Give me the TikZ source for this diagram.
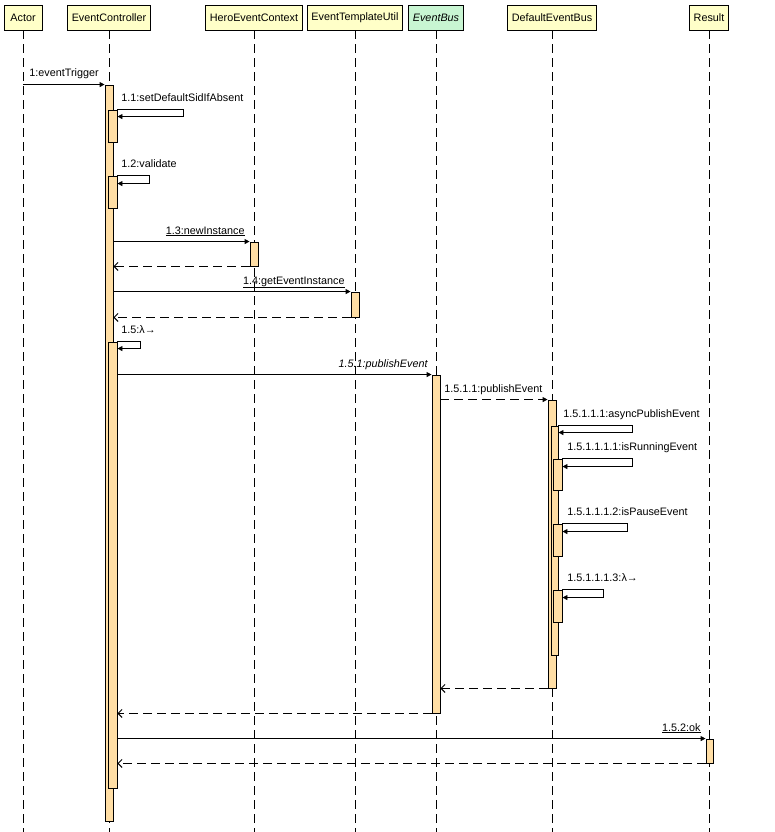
\documentclass[tikz,border=0pt]{standalone}
\usepackage{fontspec}
\setmainfont{Liberation Sans}
\usetikzlibrary{arrows.meta,fit}
\definecolor{headyellow}{RGB}{255,255,200}
\definecolor{headgreen}{RGB}{200,245,210}
\definecolor{actfill}{RGB}{255,222,165}
\tikzset{
 head/.style={draw,fill=headyellow,minimum height=25pt,inner xsep=4pt,inner ysep=0pt},
 life/.style={dash pattern=on 9pt off 5pt},
 act/.style={draw,fill=actfill,inner sep=0pt},
 call/.style={-{Triangle[length=5pt,width=5pt]}},
 ret/.style={life,-{Straight Barb[length=4pt,width=8pt]}},
 lbl/.style={anchor=base west,inner sep=0pt},
 lblr/.style={anchor=base east,inner sep=0pt}
}
\begin{document}
\begin{tikzpicture}[x=1pt,y=-1pt,line width=0.9pt,font=\fontsize{10.8}{12}\selectfont]
 \useasboundingbox (0,0) rectangle (774,832);
 \node[head,minimum width=38pt] (actor) at (23,17.5) {Actor};
 \node[head] (ctl) at (109,17.5) {EventController};
 \node[head] (ctx) at (254,17.5) {HeroEventContext};
 \node[head] (util) at (355,17.5) {EventTemplateUtil};
 \node[head,fill=headgreen,font=\fontsize{10.8}{12}\selectfont\itshape] (bus) at (436,17.5) {EventBus};
 \node[head] (dbus) at (552,17.5) {DefaultEventBus};
 \node[head] (res) at (709,17.5) {Result};
 \coordinate (bot) at (0,832);
 \foreach \n in {actor,ctl,ctx,util,bus,dbus,res}
  \draw[life] (\n.south) -- (\n.south |- bot);
 \node[act,fit={(105,85) (113,821)}] (a0) {};
 \node[act,fit={(108,110) (117,142)}] (a1) {};
 \node[act,fit={(108,176) (117,208)}] (a2) {};
 \node[act,fit={(250,242) (258,266)}] (h) {};
 \node[act,fit={(351,292) (359,317)}] (t) {};
 \node[act,fit={(108,342) (117,788)}] (a3) {};
 \node[act,fit={(432,375) (440,713)}] (b) {};
 \node[act,fit={(548,400) (556,688)}] (d) {};
 \node[act,fit={(551,426) (558,655)}] (d1) {};
 \node[act,fit={(553,459) (562,490)}] (d2) {};
 \node[act,fit={(553,524) (562,556)}] (d3) {};
 \node[act,fit={(553,590) (562,622)}] (d4) {};
 \node[act,fit={(706,739) (713,763)}] (r) {};
 \draw[call] (a0.north west -| actor) -- (a0.north west);
 \node[lbl] (m1) at (29,77) {1:eventTrigger};
 \draw[call] (a1.north east) -- ++(66,0) -- ++(0,7) -- ++(-66,0);
 \node[lbl] (m11) at (121,102) {1.1:setDefaultSidIfAbsent};
 \draw[call] (a2.north east) -- ++(32,0) -- ++(0,8) -- ++(-32,0);
 \node[lbl] (m12) at (121,167) {1.2:validate};
 \draw[call] (h.north west -| a0.east) -- (h.north west);
 \node[lblr] (m13) at (245,234) {\underline{1.3:newInstance}};
 \draw[ret] (h.south west) -- (h.south west -| a0.east);
 \draw[call] (t.north west -| a0.east) -- (t.north west);
 \node[lblr] (m14) at (345,284) {\underline{1.4:getEventInstance}};
 \draw[ret] (t.south west) -- (t.south west -| a0.east);
 \draw[call] (a3.north east) -- ++(23,0) -- ++(0,7) -- ++(-23,0);
 \node[lbl] (m15) at (121,333) {1.5:λ→};
 \draw[call] (b.north west -| a3.east) -- (b.north west);
 \node[lblr] (m151) at (428,367) {\itshape 1.5.1:publishEvent};
 \draw[call,life] (d.north west -| b.east) -- (d.north west);
 \node[lbl] (m1511) at (444,392) {1.5.1.1:publishEvent};
 \draw[call] (d1.north east) -- ++(74,0) -- ++(0,7) -- ++(-74,0);
 \node[lbl] (m15111) at (563,417) {1.5.1.1.1:asyncPublishEvent};
 \draw[call] (d2.north east) -- ++(70,0) -- ++(0,8) -- ++(-70,0);
 \node[lbl] (m151111) at (567,450) {1.5.1.1.1.1:isRunningEvent};
 \draw[call] (d3.north east) -- ++(65,0) -- ++(0,8) -- ++(-65,0);
 \node[lbl] (m151112) at (567,515) {1.5.1.1.1.2:isPauseEvent};
 \draw[call] (d4.north east) -- ++(41,0) -- ++(0,8) -- ++(-41,0);
 \node[lbl] (m151113) at (567,581) {1.5.1.1.1.3:λ→};
 \draw[ret] (d.south west) -- (d.south west -| b.east);
 \draw[ret] (b.south west) -- (b.south west -| a3.east);
 \draw[call] (r.north west -| a3.east) -- (r.north west);
 \node[lblr] (m152) at (701,731) {\underline{1.5.2:ok}};
 \draw[ret] (r.south west) -- (r.south west -| a3.east);
\end{tikzpicture}
\end{document}
